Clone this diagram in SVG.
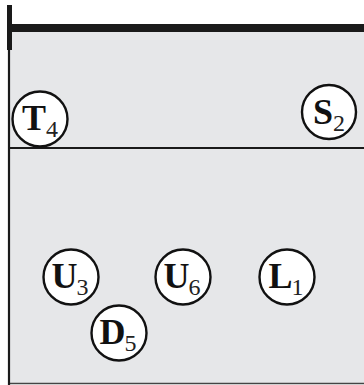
<svg xmlns="http://www.w3.org/2000/svg" width="364" height="385" viewBox="0 0 364 385">
<style>
.node circle{fill:#fff;stroke:#111;stroke-width:2.4}
.node text{font-family:"Liberation Serif",serif;font-weight:bold;font-size:36px;fill:#111;text-anchor:middle}
.s{font-weight:normal;font-size:24px;fill:#222}
</style>
<rect x="0" y="0" width="364" height="385" fill="#fff"/>
<rect x="9" y="30" width="355" height="353" fill="#e6e7e9"/>
<g id="frame" stroke="#1a1a1a" fill="none">
<line x1="9" y1="383.5" x2="364" y2="383.5" stroke="#444" stroke-width="1.5"/>
<line x1="9" y1="40" x2="9" y2="385" stroke-width="2.2"/>
<line x1="9.5" y1="5" x2="9.5" y2="50" stroke-width="5"/>
<line x1="7" y1="28" x2="364" y2="28" stroke-width="8"/>
<line x1="9" y1="148" x2="364" y2="148" stroke-width="2"/>
</g>
<g id="T4" class="node"><circle cx="40" cy="119" r="27.5"/><text x="40" y="130">T<tspan class="s" dx="0" dy="7">4</tspan></text></g>
<g id="S2" class="node"><circle cx="329" cy="112" r="27"/><text x="329" y="124">S<tspan class="s" dx="0" dy="7">2</tspan></text></g>
<g id="U3" class="node"><circle cx="71" cy="277" r="27.5"/><text x="70" y="288">U<tspan class="s" dx="-1" dy="7">3</tspan></text></g>
<g id="U6" class="node"><circle cx="183" cy="277" r="27.5"/><text x="182" y="288">U<tspan class="s" dx="-1" dy="7">6</tspan></text></g>
<g id="L1" class="node"><circle cx="287" cy="277" r="27.5"/><text x="286" y="288">L<tspan class="s" dx="-1" dy="7">1</tspan></text></g>
<g id="D5" class="node"><circle cx="119" cy="333" r="27.5"/><text x="118" y="344">D<tspan class="s" dx="-1" dy="7">5</tspan></text></g>
<g id="connectors"></g>
</svg>
